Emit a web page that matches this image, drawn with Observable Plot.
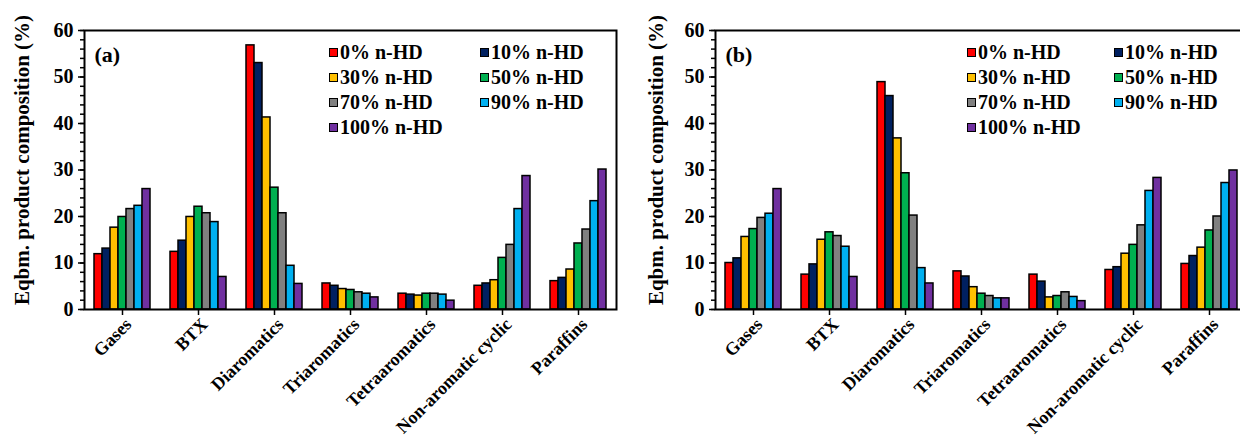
<!DOCTYPE html>
<html>
<head>
<meta charset="utf-8">
<script src="https://cdn.jsdelivr.net/npm/d3@7"></script>
<script src="https://cdn.jsdelivr.net/npm/@observablehq/plot@0.6"></script>
<style>
  html, body { margin: 0; padding: 0; background: #fff; }
  body { width: 1240px; height: 443px; overflow: hidden; position: relative; font-family: "Liberation Serif", "Times New Roman", serif; }
  .panel { position: absolute; top: 0; height: 443px; overflow: hidden; }
  .panel svg { max-width: none !important; }
  .legend { position: absolute; display: grid; row-gap: 0; font-weight: bold; font-size: 20px; color: #000; }
  .legend .item { display: flex; align-items: center; height: 25px; white-space: nowrap; }
  .legend .sw { width: 7px; height: 7px; border: 1.5px solid #000; margin-right: 2px; flex: none; }
</style>
</head>
<body>
<div id="pa" class="panel" style="left:0px;width:620px"></div>
<div id="pb" class="panel" style="left:620px;width:620px"></div>
<div id="legA" class="legend" style="left:329px;top:40px;grid-template-columns:151px 150px"></div>
<div id="legB" class="legend" style="left:967px;top:40px;grid-template-columns:147px 150px"></div>
<script>
const categories = ["Gases", "BTX", "Diaromatics", "Triaromatics", "Tetraaromatics", "Non-aromatic cyclic", "Paraffins"];
const seriesNames = ["0% n-HD", "10% n-HD", "30% n-HD", "50% n-HD", "70% n-HD", "90% n-HD", "100% n-HD"];
const seriesColors = ["#ff0000", "#002060", "#ffc000", "#00b050", "#808080", "#00b0f0", "#7030a0"];
const yMajorTicks = [0, 10, 20, 30, 40, 50, 60];
const yMinorTicks = [0, 2, 4, 6, 8, 10, 12, 14, 16, 18, 20, 22, 24, 26, 28, 30, 32, 34, 36, 38, 40, 42, 44, 46, 48, 50, 52, 54, 56, 58, 60];
const yLabel = "Eqbm. product composition (%)";

// panel (a): one row per series, one value per category
const valuesA = [
  [11.9, 12.4, 56.8, 5.6, 3.4, 5.1, 6.1],
  [13.1, 14.8, 53.0, 5.1, 3.2, 5.6, 6.8],
  [17.6, 19.9, 41.3, 4.4, 3.0, 6.3, 8.6],
  [19.9, 22.1, 26.2, 4.2, 3.4, 11.1, 14.2],
  [21.6, 20.7, 20.7, 3.7, 3.4, 13.9, 17.2],
  [22.3, 18.8, 9.4, 3.4, 3.2, 21.6, 23.3],
  [25.9, 7.0, 5.5, 2.6, 1.9, 28.7, 30.1]
];
// panel (b)
const valuesB = [
  [10.0, 7.5, 48.9, 8.2, 7.5, 8.5, 9.8],
  [11.0, 9.7, 45.9, 7.1, 6.0, 9.1, 11.5],
  [15.6, 15.0, 36.8, 4.8, 2.6, 12.0, 13.3],
  [17.3, 16.6, 29.3, 3.4, 2.9, 13.9, 17.0],
  [19.7, 15.8, 20.2, 2.9, 3.7, 18.1, 20.0],
  [20.6, 13.5, 8.9, 2.4, 2.7, 25.5, 27.2],
  [25.9, 7.0, 5.6, 2.4, 1.8, 28.3, 29.9]
];

function makePanel(values, tag, width, marginLeft, labelDx) {
  const rows = [];
  seriesNames.forEach((s, i) => categories.forEach((c, j) => rows.push({category: c, series: s, value: values[i][j]})));
  return Plot.plot({
    width, height: 443,
    marginLeft, marginRight: 2, marginTop: 30, marginBottom: 134,
    style: {fontFamily: "'Liberation Serif', 'Times New Roman', serif", fontWeight: "bold", fontSize: "19px", color: "#000", background: "#fff", overflow: "visible"},
    fx: {domain: categories, padding: 0, label: null},
    x: {domain: seriesNames, paddingInner: 0, paddingOuter: 1, axis: null},
    y: {domain: [0, 60], label: null},
    color: {domain: seriesNames, range: seriesColors},
    marks: [
      Plot.barY(rows, {fx: "category", x: "series", y: "value", fill: "series", stroke: "#000", strokeWidth: 1.5}),
      Plot.frame({facet: "super", stroke: "#000", strokeWidth: 2}),
      Plot.axisY(yMinorTicks, {tickSize: 4, fill: "none", label: null, strokeWidth: 1.5}),
      Plot.axisY(yMajorTicks, {tickSize: 6, tickPadding: 5, strokeWidth: 1.5, fontSize: 20, label: null}),
      Plot.text([yLabel], {facet: "super", frameAnchor: "left", rotate: -90, dx: labelDx, dy: -10, fontSize: 21, fontWeight: "bold", textAnchor: "middle", lineAnchor: "middle"}),
      Plot.axisFx({anchor: "bottom", tickSize: 6, strokeWidth: 1.5, fill: "none", label: null}),
      Plot.axisFx({anchor: "bottom", tickSize: 0, tickPadding: 11, tickRotate: -45, dx: 6, dy: 1, fontSize: 18, label: null}),
      Plot.text([tag], {facet: "super", frameAnchor: "top-left", dx: 10, dy: 24, fontSize: 22, fontWeight: "bold", textAnchor: "start", lineAnchor: "middle"})
    ]
  });
}

document.getElementById("pa").append(makePanel(valuesA, "(a)", 620, 82, -62));
document.getElementById("pb").append(makePanel(valuesB, "(b)", 630, 94, -59));

function makeLegend(id) {
  const el = document.getElementById(id);
  seriesNames.forEach((s, i) => {
    const item = document.createElement("div");
    item.className = "item";
    const sw = document.createElement("span");
    sw.className = "sw";
    sw.style.background = seriesColors[i];
    const t = document.createElement("span");
    t.textContent = s;
    item.append(sw, t);
    el.append(item);
  });
}
makeLegend("legA");
makeLegend("legB");
</script>
</body>
</html>
